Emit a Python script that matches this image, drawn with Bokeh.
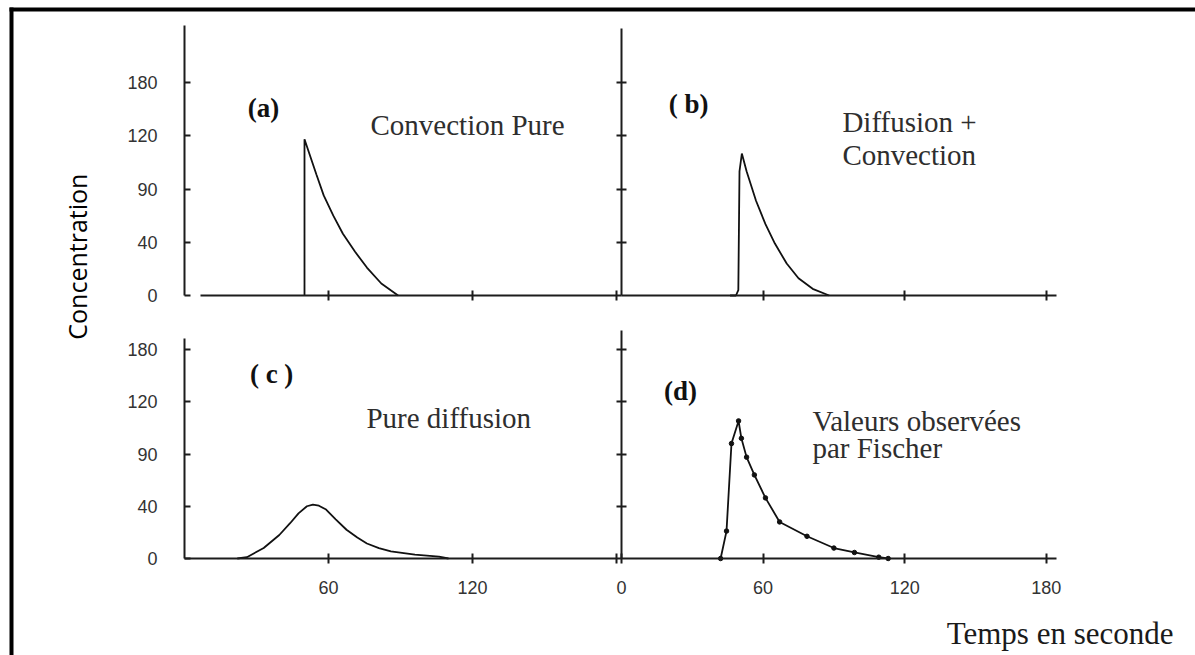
import numpy as np
from bokeh.plotting import figure
from bokeh.models import Range1d, LinearAxis, FixedTicker, BoxAnnotation
from bokeh.core.properties import value
from bokeh.embed import file_html
from bokeh.resources import INLINE

# ---------------- data ----------------
y_tick_values = [0, 40, 90, 120, 180]        # printed equally spaced on the original
x_ticks_top = [60, 120, 180]
x_ticks_c = [60, 120, 180]
x_labels_c = ["60", "120", ""]
x_ticks_d = [0, 60, 120, 180]

# (a) Convection pure
a_t = [50, 50, 52, 55, 58, 62, 66, 71, 76, 82, 89]
a_c = [0, 118, 110, 98, 84, 65, 48, 33, 21, 9, 0]
# (b) Diffusion + Convection
b_t = [46, 48.5, 49.5, 50, 51, 53, 57, 61, 65, 70, 75, 81, 88]
b_c = [0, 0, 4, 100, 110, 100, 79, 57, 39, 24, 13, 5, 0]
# (c) Pure diffusion
c_t = [22, 26, 33, 39.5, 44, 47.5, 51, 53.5, 56, 59, 63, 67.5, 72, 76, 81, 86, 96, 106, 110]
c_c = [0, 1, 8, 18, 27, 34.5, 40, 41.5, 40.5, 37.5, 30, 22, 16, 11.5, 8, 5.4, 3, 1.5, 0]
# (d) Valeurs observées par Fischer
d_t = [42, 44.5, 46.6, 49.6, 50.8, 53, 56.3, 61, 67, 78.6, 90, 98.7, 109, 113]
d_c = [0, 21, 96, 109, 99, 87, 70, 48, 28, 17, 8, 4.6, 1, 0]


def to_axis(c):
    # the printed concentration labels are equally spaced on the axis
    return np.interp(c, y_tick_values, np.arange(len(y_tick_values)))


# ---------------- geometry ----------------
W, H = 1195, 655
xa0, spa = 184, 2.40     # panel (a)/(c): origin px, px per second
xb0, spb = 621, 2.36     # panel (b)/(d)
yt0, sty = 295, 53.25    # top row baseline px, px per label step
yb0, sby = 558, 52.25    # bottom row

p = figure(width=W, height=H, x_range=Range1d(-xa0 / spa, (W - xa0) / spa),
           y_range=Range1d((yt0 - H) / sty, yt0 / sty),
           x_axis_location=None, y_axis_location=None, min_border=0,
           toolbar_location=None, output_backend="svg", outline_line_color=None,
           background_fill_color="white", border_fill_color="white")
p.extra_x_ranges = {"b": Range1d(-xb0 / spb, (W - xb0) / spb)}
p.extra_y_ranges = {"bot": Range1d((yb0 - H) / sby, yb0 / sby)}
p.xgrid.visible = False
p.ygrid.visible = False

AX = "#1c1c1c"
LBL = "#333333"
label_override = {i: str(v) for i, v in enumerate(y_tick_values)}


def style_axis(ax):
    ax.axis_line_color = AX
    ax.axis_line_width = 2
    ax.major_tick_line_color = AX
    ax.major_tick_line_width = 2
    ax.minor_tick_line_color = None
    ax.major_label_text_font = "Liberation Sans"
    ax.major_label_text_font_size = "18px"
    ax.major_label_text_color = LBL


def y_axis(xr, yr, top, labels, tin, tout):
    ticks = list(range(len(y_tick_values))) if labels else list(range(1, len(y_tick_values)))
    ax = LinearAxis(x_range_name=xr, y_range_name=yr, fixed_location=0, bounds=(0, top),
                    ticker=FixedTicker(ticks=ticks))
    style_axis(ax)
    ax.major_tick_in = tin
    ax.major_tick_out = tout
    if labels:
        ax.major_label_overrides = label_override
        ax.major_label_standoff = 27
    else:
        ax.major_label_text_color = None
    p.add_layout(ax, "left")


def x_axis(xr, yr, left, right, ticks, labels):
    ax = LinearAxis(x_range_name=xr, y_range_name=yr, fixed_location=0, bounds=(left, right),
                    ticker=FixedTicker(ticks=ticks))
    style_axis(ax)
    ax.major_tick_in = 5
    ax.major_tick_out = 5
    if labels is None:
        ax.major_label_text_color = None
    else:
        ax.major_label_overrides = {t: l for t, l in zip(ticks, labels)}
        ax.major_label_standoff = 17
    p.add_layout(ax, "below")


# y axes
y_axis("default", "default", (yt0 - 25) / sty, True, 6, 0)      # (a)
y_axis("b", "default", (yt0 - 28) / sty, False, 5, 5)           # (b)
y_axis("default", "bot", (yb0 - 338) / sby, True, 6, 0)         # (c)
y_axis("b", "bot", (yb0 - 330) / sby, False, 5, 5)              # (d)
# x axes
x_axis("default", "default", 6.5, (xb0 - xa0) / spa, x_ticks_top, None)
x_axis("b", "default", 0, (1056 - xb0) / spb, x_ticks_top, None)
x_axis("default", "bot", 0, (xb0 - xa0) / spa, x_ticks_c, x_labels_c)
x_axis("b", "bot", 0, (1056 - xb0) / spb, x_ticks_d, [str(t) for t in x_ticks_d])

# curves
CUR = "#111111"
p.line(a_t, to_axis(a_c), line_color=CUR, line_width=1.8)
p.line(b_t, to_axis(b_c), line_color=CUR, line_width=1.8, x_range_name="b")
p.line(c_t, to_axis(c_c), line_color=CUR, line_width=1.8, y_range_name="bot")
p.line(d_t, to_axis(d_c), line_color=CUR, line_width=1.8, x_range_name="b", y_range_name="bot")
p.scatter(d_t, to_axis(d_c), size=4.5, color=CUR, x_range_name="b", y_range_name="bot")

# texts
SERIF = value("Liberation Serif")
TXT = "#2e2e2e"
FS = "29px"
FP = "27px"
p.text([32.9], [3.53], text=["(a)"], text_font=SERIF, text_font_size=FP,
       text_font_style="bold", text_align="center", text_baseline="middle", text_color="#111")
p.text([77.5], [3.21], text=["Convection Pure"], text_font=SERIF, text_font_size=FS,
       text_baseline="middle", text_color=TXT)
p.text([28.4], [3.59], text=["( b)"], text_font=SERIF, text_font_size=FP,
       text_font_style="bold", text_align="center", text_baseline="middle", text_color="#111",
       x_range_name="b")
p.text([93.6, 93.6], [3.25, 2.63], text=["Diffusion +", "Convection"], text_font=SERIF,
       text_font_size=FS, text_baseline="middle", text_color=TXT, x_range_name="b")
p.text([36.3], [3.54], text=["( c )"], text_font=SERIF, text_font_size=FP,
       text_font_style="bold", text_align="center", text_baseline="middle", text_color="#111",
       y_range_name="bot")
p.text([75.8], [2.68], text=["Pure diffusion"], text_font=SERIF, text_font_size=FS,
       text_baseline="middle", text_color=TXT, y_range_name="bot")
p.text([25.0], [3.20], text=["(d)"], text_font=SERIF, text_font_size=FP,
       text_font_style="bold", text_align="center", text_baseline="middle", text_color="#111",
       x_range_name="b", y_range_name="bot")
p.text([80.9, 80.9], [2.64, 2.11], text=["Valeurs observées", "par Fischer"], text_font=SERIF,
       text_font_size=FS, text_baseline="middle", text_color=TXT,
       x_range_name="b", y_range_name="bot")
p.text([233.9], [-1.44], text=["Temps en seconde"], text_font=SERIF, text_font_size="31px",
       text_align="right", text_baseline="middle", text_color="#1a1a1a",
       x_range_name="b", y_range_name="bot")
p.text([-44.6], [0.73], text=["Concentration"], text_font=value("Open Sans"),
       text_font_size="25px", angle=np.pi / 2, text_align="center", text_baseline="middle",
       text_color="black")

# frame border of the original (top and left rules)
p.add_layout(BoxAnnotation(left=(9 - xa0) / spa, right=(W - xa0) / spa,
                           top=(yt0 - 7) / sty, bottom=(yt0 - 11) / sty,
                           fill_color="black", fill_alpha=1, line_color=None))
p.add_layout(BoxAnnotation(left=(9 - xa0) / spa, right=(13 - xa0) / spa,
                           top=(yt0 - 7) / sty, bottom=(yt0 - H) / sty,
                           fill_color="black", fill_alpha=1, line_color=None))

open("out.html", "w").write(file_html(p, INLINE))
